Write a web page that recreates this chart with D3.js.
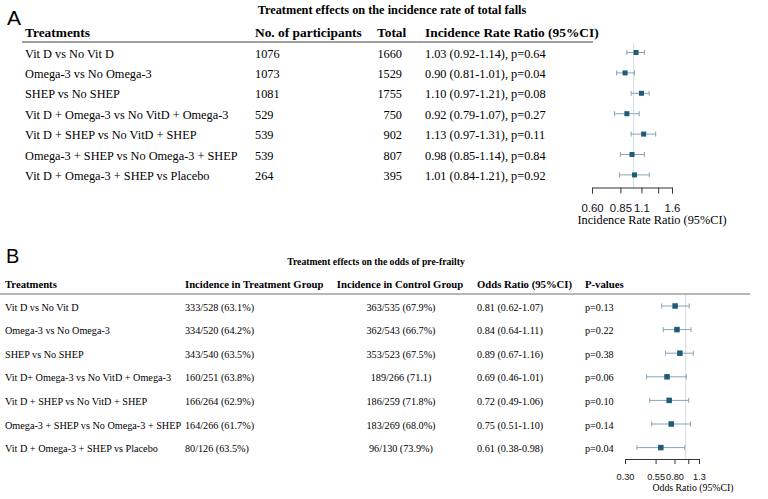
<!DOCTYPE html>
<html>
<head>
<meta charset="utf-8">
<script src="https://cdn.jsdelivr.net/npm/d3@7"></script>
<style>
  body { margin: 0; background: #fff; }
  svg { display: block; font-family: "Liberation Serif", "Times New Roman", serif; }
  .axis path, .axis line { stroke: #333; stroke-width: 1; }
  .axis text { fill: #111; }
</style>
</head>
<body>
<div id="chart"></div>
<script>
"use strict";

// Panel A: incidence rate of total falls
const treatmentsA = [
  "Vit D vs No Vit D",
  "Omega-3 vs No Omega-3",
  "SHEP vs No SHEP",
  "Vit D + Omega-3 vs No VitD + Omega-3",
  "Vit D + SHEP vs No VitD + SHEP",
  "Omega-3 + SHEP vs No Omega-3 + SHEP",
  "Vit D + Omega-3 + SHEP vs Placebo"
];
const participantsA = [1076, 1073, 1081, 529, 539, 539, 264];
const totalsA = [1660, 1529, 1755, 750, 902, 807, 395];
const irrA = [1.03, 0.90, 1.10, 0.92, 1.13, 0.98, 1.01];
const irrLowA = [0.92, 0.81, 0.97, 0.79, 0.97, 0.85, 0.84];
const irrHighA = [1.14, 1.01, 1.21, 1.07, 1.31, 1.14, 1.21];
const pA = ["0.64", "0.04", "0.08", "0.27", "0.11", "0.84", "0.92"];
const ticksA = [0.60, 0.85, 1.10, 1.35, 1.60];
const tickLabelsA = ["0.60", "0.85", "1.1", "", "1.6"];

// Panel B: odds of pre-frailty
const treatmentsB = [
  "Vit D vs No Vit D",
  "Omega-3 vs No Omega-3",
  "SHEP vs No SHEP",
  "Vit D+ Omega-3 vs No VitD + Omega-3",
  "Vit D + SHEP vs No VitD + SHEP",
  "Omega-3 + SHEP vs No Omega-3 + SHEP",
  "Vit D + Omega-3 + SHEP vs Placebo"
];
const treatGroupB = ["333/528 (63.1%)", "334/520 (64.2%)", "343/540 (63.5%)", "160/251 (63.8%)",
  "166/264 (62.9%)", "164/266 (61.7%)", "80/126 (63.5%)"];
const controlGroupB = ["363/535 (67.9%)", "362/543 (66.7%)", "353/523 (67.5%)", "189/266 (71.1)",
  "186/259 (71.8%)", "183/269 (68.0%)", "96/130 (73.9%)"];
const orB = [0.81, 0.84, 0.89, 0.69, 0.72, 0.75, 0.61];
const orLowB = [0.62, 0.64, 0.67, 0.46, 0.49, 0.51, 0.38];
const orHighB = [1.07, 1.11, 1.16, 1.01, 1.06, 1.10, 0.98];
const pB = ["0.13", "0.22", "0.38", "0.06", "0.10", "0.14", "0.04"];
const ticksB = [0.30, 0.55, 0.80, 1.05, 1.30];
const tickLabelsB = ["0.30", "0.55", "0.80", "", "1.3"];

const width = 768;
const height = 499;
const markColor = "#1f5c78";
const whiskerColor = "#8aa4b6";
const refColor = "#cfdbe3";

const svg = d3.select("#chart")
  .append("svg")
  .attr("width", width)
  .attr("height", height);

const f2 = d3.format(".2f");

// ---------- panel A ----------
const rowA = i => 57.5 + i * 20.4;
const fsA = 12.3;

svg.append("text")
  .attr("x", 7).attr("y", 25)
  .attr("font-family", "Liberation Sans, Arial, sans-serif")
  .attr("font-size", 21)
  .text("A");

svg.append("text")
  .attr("x", 392).attr("y", 14)
  .attr("text-anchor", "middle")
  .attr("font-weight", "bold")
  .attr("font-size", 12.3)
  .text("Treatment effects on the incidence rate of total falls");

const headA = svg.append("g")
  .attr("font-weight", "bold")
  .attr("font-size", 13.4);
headA.append("text").attr("x", 25).attr("y", 37).text("Treatments");
headA.append("text").attr("x", 255).attr("y", 37).text("No. of participants");
headA.append("text").attr("x", 377).attr("y", 37).text("Total");
headA.append("text").attr("x", 425).attr("y", 37).text("Incidence Rate Ratio (95%CI)");

svg.append("line")
  .attr("x1", 22).attr("x2", 593)
  .attr("y1", 42).attr("y2", 42)
  .attr("stroke", "#a0a0a0")
  .attr("stroke-width", 2);

const bodyA = svg.append("g").attr("font-size", fsA);
bodyA.selectAll(".trtA").data(treatmentsA).enter().append("text")
  .attr("x", 25).attr("y", (d, i) => rowA(i)).text(d => d);
bodyA.selectAll(".nA").data(participantsA).enter().append("text")
  .attr("x", 255).attr("y", (d, i) => rowA(i)).text(d => d);
bodyA.selectAll(".totA").data(totalsA).enter().append("text")
  .attr("x", 402).attr("y", (d, i) => rowA(i))
  .attr("text-anchor", "end").text(d => d);
bodyA.selectAll(".irrA").data(irrA).enter().append("text")
  .attr("x", 425).attr("y", (d, i) => rowA(i))
  .text((d, i) => `${f2(d)} (${f2(irrLowA[i])}-${f2(irrHighA[i])}), p=${pA[i]}`);

const xA = d3.scaleLog().domain([0.6, 1.6]).range([592, 672]);
const axisYA = 187.5;

svg.append("line")
  .attr("x1", xA(1)).attr("x2", xA(1))
  .attr("y1", 43).attr("y2", axisYA)
  .attr("stroke", refColor);

function forest(g, x, est, lo, hi, rowY, markSize) {
  const rows = g.selectAll("g.row").data(est).enter().append("g").attr("class", "row");
  rows.append("line")
    .attr("x1", (d, i) => x(lo[i])).attr("x2", (d, i) => x(hi[i]))
    .attr("y1", (d, i) => rowY(i)).attr("y2", (d, i) => rowY(i))
    .attr("stroke", whiskerColor);
  rows.append("line")
    .attr("x1", (d, i) => x(lo[i])).attr("x2", (d, i) => x(lo[i]))
    .attr("y1", (d, i) => rowY(i) - 2.5).attr("y2", (d, i) => rowY(i) + 2.5)
    .attr("stroke", whiskerColor);
  rows.append("line")
    .attr("x1", (d, i) => x(hi[i])).attr("x2", (d, i) => x(hi[i]))
    .attr("y1", (d, i) => rowY(i) - 2.5).attr("y2", (d, i) => rowY(i) + 2.5)
    .attr("stroke", whiskerColor);
  rows.append("rect")
    .attr("x", d => x(d) - markSize / 2)
    .attr("y", (d, i) => rowY(i) - markSize / 2)
    .attr("width", markSize).attr("height", markSize)
    .attr("fill", markColor);
}

forest(svg.append("g"), xA, irrA, irrLowA, irrHighA, i => rowA(i) - 5, 5);

svg.append("g")
  .attr("class", "axis")
  .attr("transform", `translate(0,${axisYA})`)
  .call(d3.axisBottom(xA).tickValues(ticksA)
    .tickFormat((d, i) => tickLabelsA[i]).tickSize(6).tickPadding(10))
  .call(g => g.selectAll("text").attr("font-size", 11.4).attr("font-family", null));

svg.append("text")
  .attr("x", 652).attr("y", 224)
  .attr("text-anchor", "middle")
  .attr("font-size", fsA)
  .text("Incidence Rate Ratio (95%CI)");

// ---------- panel B ----------
const rowB = i => 310.5 + i * 23.6;
const fsB = 10.2;

svg.append("text")
  .attr("x", 6).attr("y", 263)
  .attr("font-family", "Liberation Sans, Arial, sans-serif")
  .attr("font-size", 20)
  .text("B");

svg.append("text")
  .attr("x", 376).attr("y", 265)
  .attr("text-anchor", "middle")
  .attr("font-weight", "bold")
  .attr("font-size", 9.7)
  .text("Treatment effects on the odds of pre-frailty");

const headB = svg.append("g")
  .attr("font-weight", "bold")
  .attr("font-size", 10.7);
headB.append("text").attr("x", 5).attr("y", 288).text("Treatments");
headB.append("text").attr("x", 185).attr("y", 288).text("Incidence in Treatment Group");
headB.append("text").attr("x", 400).attr("y", 288).attr("text-anchor", "middle").text("Incidence in Control Group");
headB.append("text").attr("x", 477).attr("y", 288).text("Odds Ratio (95%CI)");
headB.append("text").attr("x", 585).attr("y", 288).text("P-values");

svg.append("line")
  .attr("x1", 0).attr("x2", 750)
  .attr("y1", 294).attr("y2", 294)
  .attr("stroke", "#a0a0a0")
  .attr("stroke-width", 1.5);

const bodyB = svg.append("g").attr("font-size", fsB);
bodyB.selectAll(".trtB").data(treatmentsB).enter().append("text")
  .attr("x", 5).attr("y", (d, i) => rowB(i)).text(d => d);
bodyB.selectAll(".tgB").data(treatGroupB).enter().append("text")
  .attr("x", 185).attr("y", (d, i) => rowB(i)).text(d => d);
bodyB.selectAll(".cgB").data(controlGroupB).enter().append("text")
  .attr("x", 401).attr("y", (d, i) => rowB(i))
  .attr("text-anchor", "middle").text(d => d);
bodyB.selectAll(".orB").data(orB).enter().append("text")
  .attr("x", 477).attr("y", (d, i) => rowB(i))
  .text((d, i) => `${f2(d)} (${f2(orLowB[i])}-${f2(orHighB[i])})`);
bodyB.selectAll(".pB").data(pB).enter().append("text")
  .attr("x", 585).attr("y", (d, i) => rowB(i))
  .text(d => `p=${d}`);

const xB = d3.scaleLog().domain([0.3, 1.3]).range([625, 699]);
const axisYB = 459;

svg.append("line")
  .attr("x1", xB(1)).attr("x2", xB(1))
  .attr("y1", 295).attr("y2", axisYB)
  .attr("stroke", refColor);

forest(svg.append("g"), xB, orB, orLowB, orHighB, i => rowB(i) - 4.5, 5.5);

svg.append("g")
  .attr("class", "axis")
  .attr("transform", `translate(0,${axisYB})`)
  .call(d3.axisBottom(xB).tickValues(ticksB)
    .tickFormat((d, i) => tickLabelsB[i]).tickSize(5).tickPadding(9))
  .call(g => g.selectAll("text").attr("font-size", 9.2).attr("font-family", null));

svg.append("text")
  .attr("x", 693).attr("y", 491)
  .attr("text-anchor", "middle")
  .attr("font-size", 9.8)
  .text("Odds Ratio (95%CI)");
</script>
</body>
</html>
